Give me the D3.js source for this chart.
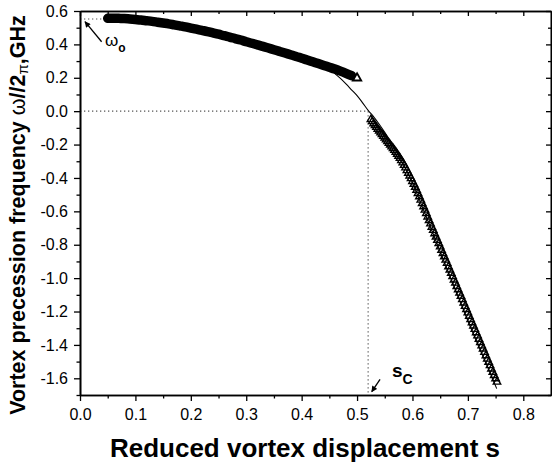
<!DOCTYPE html>
<html>
<head>
<meta charset="utf-8">
<script src="https://cdn.jsdelivr.net/npm/d3@7"></script>
<style>
  body { margin: 0; background: #fff; }
  text { font-family: "Liberation Sans", Arial, sans-serif; }
</style>
</head>
<body>
<svg id="chart" width="552" height="464"></svg>
<script>
// Upper (positive-frequency) branch: reduced displacement s and frequency in GHz
const upperS = [0.05,0.06,0.07,0.08,0.09,0.10,0.11,0.12,0.13,0.14,0.15,0.16,0.17,0.18,0.19,0.20,
  0.21,0.22,0.23,0.24,0.25,0.26,0.27,0.28,0.29,0.30,0.31,0.32,0.33,0.34,0.35,0.36,0.37,0.38,0.39,
  0.40,0.41,0.42,0.43,0.44,0.45,0.46,0.47,0.48,0.49,0.50];
const upperW = [0.556,0.557,0.556,0.555,0.552,0.549,0.546,0.542,0.538,0.533,0.528,0.523,0.517,0.511,
  0.505,0.498,0.491,0.484,0.477,0.469,0.461,0.452,0.444,0.435,0.426,0.416,0.407,0.397,0.388,0.378,
  0.368,0.358,0.348,0.338,0.328,0.317,0.307,0.296,0.285,0.274,0.263,0.252,0.240,0.227,0.213,0.198];

// Lower (negative-frequency) branch beyond the critical displacement
const lowerS = [0.5250,0.5275,0.5300,0.5325,0.5350,0.5375,0.5400,0.5425,0.5450,0.5475,0.5500,0.5525,
  0.5550,0.5575,0.5600,0.5625,0.5650,0.5675,0.5700,0.5725,0.5750,0.5775,0.5800,0.5825,0.5850,0.5875,
  0.5900,0.5925,0.5950,0.5975,0.6000,0.6025,0.6050,0.6075,0.6100,0.6125,0.6150,0.6175,0.6200,0.6225,
  0.6250,0.6275,0.6300,0.6325,0.6350,0.6375,0.6400,0.6425,0.6450,0.6475,0.6500,0.6525,0.6550,0.6575,
  0.6600,0.6625,0.6650,0.6675,0.6700,0.6725,0.6750,0.6775,0.6800,0.6825,0.6850,0.6875,0.6900,0.6925,
  0.6950,0.6975,0.7000,0.7025,0.7050,0.7075,0.7100,0.7125,0.7150,0.7175,0.7200,0.7225,0.7250,0.7275,
  0.7300,0.7325,0.7350,0.7375,0.7400,0.7425,0.7450,0.7475,0.7500,0.7525];
const lowerW = [-0.050,-0.062,-0.074,-0.085,-0.096,-0.107,-0.118,-0.129,-0.139,-0.150,-0.160,-0.171,
  -0.181,-0.192,-0.202,-0.213,-0.223,-0.234,-0.245,-0.257,-0.269,-0.282,-0.295,-0.309,-0.324,-0.339,
  -0.355,-0.371,-0.387,-0.403,-0.420,-0.437,-0.455,-0.473,-0.492,-0.512,-0.532,-0.552,-0.572,-0.592,
  -0.613,-0.633,-0.654,-0.674,-0.694,-0.713,-0.733,-0.753,-0.773,-0.792,-0.812,-0.832,-0.852,-0.871,
  -0.891,-0.911,-0.931,-0.950,-0.970,-0.990,-1.010,-1.029,-1.049,-1.069,-1.089,-1.108,-1.128,-1.148,
  -1.168,-1.187,-1.207,-1.227,-1.247,-1.266,-1.286,-1.306,-1.326,-1.345,-1.365,-1.385,-1.405,-1.424,
  -1.444,-1.464,-1.484,-1.503,-1.523,-1.543,-1.563,-1.582,-1.602,-1.622];

// Model curve through the critical point
const theoryS = [0.44,0.45,0.46,0.47,0.48,0.49,0.50,0.51,0.52,0.53,0.54,0.55,0.56,0.57,0.58,0.59,
  0.60,0.62,0.64,0.66,0.68,0.70,0.72,0.74,0.752];
const theoryW = [0.274,0.252,0.225,0.196,0.163,0.128,0.093,0.050,0.005,-0.034,-0.078,-0.127,-0.180,
  -0.236,-0.296,-0.360,-0.430,-0.592,-0.757,-0.925,-1.090,-1.255,-1.412,-1.565,-1.662];

// Reference values
const omega0 = 0.552;
const sCritical = 0.52;

// Axis ticks
const xTicks = [0.0,0.1,0.2,0.3,0.4,0.5,0.6,0.7,0.8];
const xMinorTicks = [0.05,0.15,0.25,0.35,0.45,0.55,0.65,0.75];
const yTicks = [0.6,0.4,0.2,0.0,-0.2,-0.4,-0.6,-0.8,-1.0,-1.2,-1.4,-1.6];
const yMinorTicks = [0.5,0.3,0.1,-0.1,-0.3,-0.5,-0.7,-0.9,-1.1,-1.3,-1.5,-1.7];

const svg = d3.select("#chart");
const plotLeft = 80, plotRight = 551, plotTop = 11, plotBottom = 395;

const x = d3.scaleLinear().domain([0, 0.85]).range([plotLeft, plotRight]);
const y = d3.scaleLinear().domain([-1.7, 0.6]).range([plotBottom, plotTop]);

const fmt = d => d.toFixed(1);

// Arrowhead
svg.append("defs").append("marker")
  .attr("id", "head").attr("viewBox", "0 0 10 10")
  .attr("refX", 9).attr("refY", 5)
  .attr("markerWidth", 7).attr("markerHeight", 6)
  .attr("markerUnits", "userSpaceOnUse")
  .attr("orient", "auto")
  .append("path").attr("d", "M0,0 L10,5 L0,10 Z").attr("fill", "#000");

// Dotted guides
const guides = svg.append("g").attr("stroke", "#555").attr("stroke-width", 1.2)
  .attr("stroke-dasharray", "1.3,2.7").attr("fill", "none");
guides.append("line").attr("x1", x(0)).attr("x2", x(upperS[0]) - 4)
  .attr("y1", y(omega0)).attr("y2", y(omega0));
guides.append("line").attr("x1", x(0)).attr("x2", x(sCritical))
  .attr("y1", y(0)).attr("y2", y(0));
guides.append("line").attr("x1", x(sCritical)).attr("x2", x(sCritical))
  .attr("y1", y(0)).attr("y2", y(-1.7));

// Upper branch: densely packed markers form a solid trail
const upperPts = upperS.map((s, i) => [s, upperW[i]]);
svg.append("path")
  .datum(upperPts.slice(0, -1))
  .attr("d", d3.line().x(d => x(d[0])).y(d => y(d[1])).curve(d3.curveMonotoneX))
  .attr("fill", "none").attr("stroke", "#000").attr("stroke-width", 9.5)
  .attr("stroke-linecap", "round");
const last = upperPts[upperPts.length - 1];
svg.append("path")
  .attr("transform", `translate(${x(last[0])},${y(last[1])})`)
  .attr("d", d3.symbol().type(d3.symbolTriangle).size(30)())
  .attr("fill", "#fff").attr("stroke", "#000").attr("stroke-width", 1.8);

// Lower branch markers (open triangles)
const tri = d3.symbol().type(d3.symbolTriangle).size(24)();
svg.append("g").selectAll("path")
  .data(lowerS.map((s, i) => [s, lowerW[i]]))
  .join("path")
  .attr("transform", d => `translate(${x(d[0])},${y(d[1])})`)
  .attr("d", tri)
  .attr("fill", "none").attr("stroke", "#000").attr("stroke-width", 1.4);

// Model curve
svg.append("path")
  .datum(theoryS.map((s, i) => [s, theoryW[i]]))
  .attr("d", d3.line().x(d => x(d[0])).y(d => y(d[1])).curve(d3.curveMonotoneX))
  .attr("fill", "none").attr("stroke", "#000").attr("stroke-width", 1.1);

// Axes
function styleAxis(g) {
  g.selectAll(".domain").attr("stroke", "#000").attr("stroke-width", 1.6);
  g.selectAll(".tick line").attr("stroke", "#000").attr("stroke-width", 1.3);
  g.selectAll("text").attr("font-size", 16).attr("fill", "#000")
    .attr("font-family", "'Liberation Sans', Arial, sans-serif");
}

svg.append("g").attr("transform", `translate(0,${plotBottom})`)
  .call(d3.axisBottom(x).tickValues(xMinorTicks).tickSize(3.5).tickFormat("").tickSizeOuter(0))
  .call(styleAxis);
svg.append("g").attr("transform", `translate(0,${plotBottom})`)
  .call(d3.axisBottom(x).tickValues(xTicks).tickSize(6).tickPadding(8).tickFormat(fmt).tickSizeOuter(0))
  .call(styleAxis);
svg.append("g").attr("transform", `translate(${plotLeft},0)`)
  .call(d3.axisLeft(y).tickValues(yMinorTicks).tickSize(3.5).tickFormat("").tickSizeOuter(0))
  .call(styleAxis);
svg.append("g").attr("transform", `translate(${plotLeft},0)`)
  .call(d3.axisLeft(y).tickValues(yTicks).tickSize(6).tickPadding(6).tickFormat(fmt).tickSizeOuter(0))
  .call(styleAxis);
// Mirror axes with inward ticks
svg.append("g").attr("transform", `translate(0,${plotTop})`)
  .call(d3.axisBottom(x).tickValues(xTicks).tickSize(5).tickFormat("").tickSizeOuter(0))
  .call(styleAxis);
svg.append("g").attr("transform", `translate(0,${plotTop})`)
  .call(d3.axisBottom(x).tickValues(xMinorTicks).tickSize(3).tickFormat("").tickSizeOuter(0))
  .call(styleAxis);
svg.append("g").attr("transform", `translate(${plotRight},0)`)
  .call(d3.axisLeft(y).tickValues(yTicks).tickSize(5).tickFormat("").tickSizeOuter(0))
  .call(styleAxis);
svg.append("g").attr("transform", `translate(${plotRight},0)`)
  .call(d3.axisLeft(y).tickValues(yMinorTicks).tickSize(3).tickFormat("").tickSizeOuter(0))
  .call(styleAxis);

// Annotations
svg.append("line")
  .attr("x1", x(0.039)).attr("y1", y(0.416))
  .attr("x2", x(0.009)).attr("y2", y(0.536))
  .attr("stroke", "#000").attr("stroke-width", 1.3).attr("marker-end", "url(#head)");
const w0 = svg.append("text").attr("x", x(0.045)).attr("y", y(0.39)).attr("font-size", 17);
w0.append("tspan").text("ω");
w0.append("tspan").attr("dy", 6).attr("font-size", 12).attr("font-weight", "bold").text("o");

svg.append("line")
  .attr("x1", x(0.5415)).attr("y1", y(-1.606))
  .attr("x2", x(0.5265)).attr("y2", y(-1.68))
  .attr("stroke", "#000").attr("stroke-width", 1.3).attr("marker-end", "url(#head)");
const sc = svg.append("text").attr("x", x(0.563)).attr("y", y(-1.592))
  .attr("font-size", 19).attr("font-weight", "bold");
sc.append("tspan").text("s");
sc.append("tspan").attr("dy", 7).attr("font-size", 14).text("C");

// Axis titles
svg.append("text")
  .attr("x", 305).attr("y", 457)
  .attr("text-anchor", "middle").attr("font-size", 26).attr("font-weight", "bold")
  .text("Reduced vortex displacement s");

const yt = svg.append("text")
  .attr("transform", "translate(25,215) rotate(-90)")
  .attr("text-anchor", "middle").attr("font-size", 21.5).attr("font-weight", "bold");
yt.append("tspan").text("Vortex precession frequency ");
yt.append("tspan").attr("font-weight", "normal").text("ω");
yt.append("tspan").text("//2");
yt.append("tspan").attr("font-weight", "normal").attr("font-size", 15).attr("dy", 3).text("π");
yt.append("tspan").attr("dy", -3).text(",GHz");
</script>
</body>
</html>
